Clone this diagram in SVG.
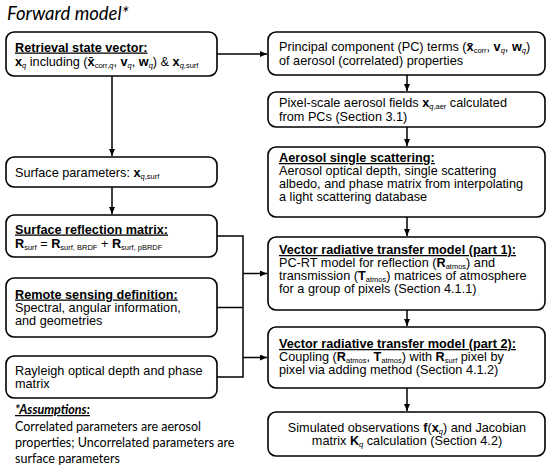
<svg xmlns="http://www.w3.org/2000/svg" width="550" height="471" viewBox="0 0 550 471">
<defs>
<style>
.t{font-family:"Liberation Sans",Arial,sans-serif;font-size:12.7px;fill:#000}
.h{font-weight:bold;text-decoration:underline}
.b{font-weight:bold}
.s{font-size:7.5px}
.i{font-style:italic}
.box{fill:#fff;stroke:#000;stroke-width:1.6}
.ln{stroke:#000;stroke-width:1.5;fill:none}
.c{font-family:Lato,"Open Sans",sans-serif;fill:#000}
</style>
<marker id="ah" markerWidth="8" markerHeight="6" refX="7" refY="3" orient="auto" markerUnits="userSpaceOnUse">
<path d="M0,0 L7,3 L0,6 z" fill="#000"/>
</marker>
</defs>
<rect width="550" height="471" fill="#fff"/>
<text class="c" x="7" y="20" font-size="18.5" font-style="italic">Forward model*</text>

<g id="connectors">
<line class="ln" x1="112" y1="76" x2="112" y2="156" marker-end="url(#ah)"/>
<line class="ln" x1="112" y1="187" x2="112" y2="214" marker-end="url(#ah)"/>
<line class="ln" x1="217" y1="54" x2="267" y2="54" marker-end="url(#ah)"/>
<line class="ln" x1="407" y1="75" x2="407" y2="91" marker-end="url(#ah)"/>
<line class="ln" x1="407" y1="127" x2="407" y2="146" marker-end="url(#ah)"/>
<line class="ln" x1="407" y1="217" x2="407" y2="236" marker-end="url(#ah)"/>
<line class="ln" x1="407" y1="310" x2="407" y2="326" marker-end="url(#ah)"/>
<line class="ln" x1="407" y1="388" x2="407" y2="411" marker-end="url(#ah)"/>
<polyline class="ln" points="217,236 243,236 243,377 217,377"/>
<line class="ln" x1="217" y1="307.5" x2="243" y2="307.5"/>
<line class="ln" x1="243" y1="273.5" x2="267" y2="273.5" marker-end="url(#ah)"/>
<line class="ln" x1="243" y1="357.5" x2="267" y2="357.5" marker-end="url(#ah)"/>
</g>

<g id="retrieval">
<rect class="box" x="6" y="32" width="211" height="44" rx="8"/>
<text class="t h" x="15" y="51.5">Retrieval state vector:</text>
<text class="t" x="15" y="65.5"><tspan class="b">x</tspan><tspan class="s i" dy="2">q</tspan><tspan dy="-2"> including (</tspan><tspan class="b">x&#x304;</tspan><tspan class="s" dy="2">corr,<tspan class="i">q</tspan></tspan><tspan dy="-2">, </tspan><tspan class="b">v</tspan><tspan class="s i" dy="2">q</tspan><tspan dy="-2">, </tspan><tspan class="b">w</tspan><tspan class="s i" dy="2">q</tspan><tspan dy="-2">) &amp; </tspan><tspan class="b">x</tspan><tspan class="s" dy="2"><tspan class="i">q</tspan>,surf</tspan></text>
</g>

<g id="surface-params">
<rect class="box" x="6" y="157" width="211" height="30" rx="8"/>
<text class="t" x="15" y="176.5">Surface parameters: <tspan class="b">x</tspan><tspan class="s" dy="2"><tspan class="i">q</tspan>,surf</tspan></text>
</g>

<g id="surface-reflection">
<rect class="box" x="6" y="215" width="211" height="42" rx="8"/>
<text class="t h" x="15" y="233.5">Surface reflection matrix:</text>
<text class="t" x="15" y="247.5" font-size="12"><tspan class="b">R</tspan><tspan class="s" dy="2">surf</tspan><tspan dy="-2"> = </tspan><tspan class="b">R</tspan><tspan class="s" dy="2">surf, BRDF</tspan><tspan dy="-2"> + </tspan><tspan class="b">R</tspan><tspan class="s" dy="2">surf, pBRDF</tspan></text>
</g>

<g id="remote-sensing">
<rect class="box" x="6" y="278" width="211" height="59" rx="8"/>
<text class="t h" x="15" y="298.5">Remote sensing definition:</text>
<text class="t" x="15" y="311.5">Spectral, angular information,</text>
<text class="t" x="15" y="324.5">and geometries</text>
</g>

<g id="rayleigh">
<rect class="box" x="6" y="356" width="211" height="42" rx="8"/>
<text class="t" x="15" y="374.5">Rayleigh optical depth and phase</text>
<text class="t" x="15" y="388">matrix</text>
</g>

<g id="pc-terms">
<rect class="box" x="268" y="32" width="277" height="43" rx="8"/>
<text class="t" x="279" y="51">Principal component (PC) terms (<tspan class="b">x&#x304;</tspan><tspan class="s" dy="2">corr</tspan><tspan dy="-2">, </tspan><tspan class="b">v</tspan><tspan class="s i" dy="2">q</tspan><tspan dy="-2">, </tspan><tspan class="b">w</tspan><tspan class="s i" dy="2">q</tspan><tspan dy="-2">)</tspan></text>
<text class="t" x="279" y="64.5">of aerosol (correlated) properties</text>
</g>

<g id="pixel-scale">
<rect class="box" x="268" y="92" width="277" height="35" rx="8"/>
<text class="t" x="279" y="107">Pixel-scale aerosol fields <tspan class="b">x</tspan><tspan class="s" dy="2"><tspan class="i">q</tspan>,aer</tspan><tspan dy="-2"> calculated</tspan></text>
<text class="t" x="279" y="120.5">from PCs (Section 3.1)</text>
</g>

<g id="aerosol-scattering">
<rect class="box" x="268" y="147" width="277" height="70" rx="8"/>
<text class="t h" x="279" y="162">Aerosol single scattering:</text>
<text class="t" x="279" y="175">Aerosol optical depth, single scattering</text>
<text class="t" x="279" y="188">albedo, and phase matrix from interpolating</text>
<text class="t" x="279" y="201">a light scattering database</text>
</g>

<g id="vrt1">
<rect class="box" x="268" y="237" width="277" height="73" rx="8"/>
<text class="t h" x="279" y="254">Vector radiative transfer model (part 1):</text>
<text class="t" x="279" y="267">PC-RT model for reflection (<tspan class="b">R</tspan><tspan class="s" dy="2">atmos</tspan><tspan dy="-2">) and</tspan></text>
<text class="t" x="279" y="280">transmission (<tspan class="b">T</tspan><tspan class="s" dy="2">atmos</tspan><tspan dy="-2">) matrices of atmosphere</tspan></text>
<text class="t" x="279" y="293">for a group of pixels (Section 4.1.1)</text>
</g>

<g id="vrt2">
<rect class="box" x="268" y="327" width="277" height="61" rx="8"/>
<text class="t h" x="279" y="348">Vector radiative transfer model (part 2):</text>
<text class="t" x="279" y="361">Coupling (<tspan class="b">R</tspan><tspan class="s" dy="2">atmos</tspan><tspan dy="-2">, </tspan><tspan class="b">T</tspan><tspan class="s" dy="2">atmos</tspan><tspan dy="-2">) with </tspan><tspan class="b">R</tspan><tspan class="s" dy="2">surf</tspan><tspan dy="-2"> pixel by</tspan></text>
<text class="t" x="279" y="374">pixel via adding method (Section 4.1.2)</text>
</g>

<g id="simulated">
<rect class="box" x="268" y="412" width="277" height="44" rx="8"/>
<text class="t" x="407" y="431.5" text-anchor="middle">Simulated observations <tspan class="b">f</tspan>(<tspan class="b">x</tspan><tspan class="s i" dy="2">q</tspan><tspan dy="-2">) and Jacobian</tspan></text>
<text class="t" x="407" y="444.5" text-anchor="middle">matrix <tspan class="b">K</tspan><tspan class="s i" dy="2">q</tspan><tspan dy="-2"> calculation (Section 4.2)</tspan></text>
</g>

<g id="assumptions">
<text class="c" x="15" y="414" font-size="12.5" font-weight="bold" font-style="italic" text-decoration="underline">*Assumptions:</text>
<text class="c" x="15" y="431" font-size="12.5">Correlated parameters are aerosol</text>
<text class="c" x="15" y="447" font-size="12.5">properties; Uncorrelated parameters are</text>
<text class="c" x="15" y="463" font-size="12.5">surface parameters</text>
</g>
</svg>
